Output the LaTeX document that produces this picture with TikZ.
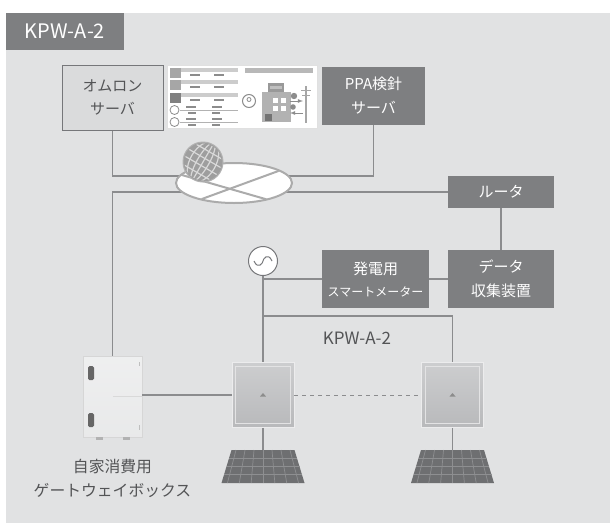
\documentclass[tikz,border=0pt]{standalone}
\usepackage{fontspec}
\setmainfont{Noto Sans CJK JP}
\usetikzlibrary{shapes.geometric}

\definecolor{bgc}{HTML}{E1E2E3}
\definecolor{boxdark}{HTML}{7E7F81}
\definecolor{boxlight}{HTML}{DADBDC}
\definecolor{boxedge}{HTML}{76777A}
\definecolor{wirec}{HTML}{8B8C8E}
\definecolor{txtdark}{HTML}{535456}
\definecolor{panelc}{HTML}{6E6F71}
\definecolor{panelgrid}{HTML}{8E8F91}
\definecolor{invc}{HTML}{C0C1C3}

\tikzset{
  wire/.style={draw=wirec, line width=1.1pt},
  darkbox/.style={rectangle, fill=boxdark, text=white, inner sep=0pt, align=center,
    font=\fontsize{15}{24}\selectfont},
  lightbox/.style={rectangle, fill=boxlight, draw=boxedge, line width=1pt, text=txtdark,
    inner sep=0pt, align=center, font=\fontsize{15}{23}\selectfont},
  invbox/.style={rectangle, top color=white!20!invc, bottom color=black!4!invc,
    draw=white!70!invc, line width=0.8pt, inner sep=0pt,
    minimum width=62pt, minimum height=65pt},
  gwbox/.style={rectangle, top color=white!45!bgc, bottom color=white!25!bgc,
    draw=black!16, line width=0.6pt, inner sep=0pt,
    minimum width=59pt, minimum height=81pt},
  hub/.style={ellipse, draw=black!33, fill=white, line width=2pt, minimum width=116pt,
    minimum height=40pt, inner sep=0pt},
  caption/.style={text=txtdark, align=center, inner sep=0pt},
  pics/solarpanel/.style={code={
    \fill[panelc] (-31.5,0) -- (31.5,0) -- (41.5,33) -- (-41.5,33) -- cycle;
    \foreach \r in {1,2,3} {
      \draw[panelgrid, line width=0.7pt] (-31.5-10*\r/4,33*\r/4) -- (31.5+10*\r/4,33*\r/4);
    }
    \foreach \c in {-3,...,3} {
      \draw[panelgrid, line width=0.7pt] (\c*9,0) -- (\c*11.86,33);
    }
  }},
}

\begin{document}
\begin{tikzpicture}[x=1pt, y=-1pt]
\useasboundingbox (0,0) rectangle (610,525);
\fill[bgc] (6,13) rectangle (610,523);

% title tab
\node[darkbox, minimum width=118pt, minimum height=37pt,
      font=\fontsize{20}{24}\selectfont] (tab) at (65,31.5) {KPW-A-2};

% servers
\node[lightbox, minimum width=101pt, minimum height=65pt] (omron) at (112.5,97.5) {オムロン\\サーバ};
\node[darkbox, minimum width=103pt, minimum height=58pt] (ppa) at (373.5,96) {PPA検針\\サーバ};

% dashboard screenshot between the servers
\begin{scope}
  \fill[white] (167,65) rectangle (317,128);
  \draw[black!12, line width=0.5pt] (167,65) rectangle (317,128);
  \foreach \y/\c in {68/black!35, 80/black!35, 93/black!50} {
    \fill[\c] (170,\y) rectangle (181,\y+10);
    \fill[black!20] (181,\y) rectangle (238,\y+3.5);
    \fill[black!45] (190,\y+6) rectangle (200,\y+7.5);
    \fill[black!45] (214,\y+6) rectangle (224,\y+7.5);
  }
  \foreach \y in {110,122} {
    \draw[black!45, line width=0.8pt] (174.5,\y) circle (4.5);
    \fill[black!45] (186,\y-4) rectangle (196,\y-2.5);
    \fill[black!45] (212,\y-4) rectangle (222,\y-2.5);
    \draw[black!30, line width=0.6pt] (180,\y) -- (238,\y);
    \fill[black!45] (188,\y+2) rectangle (196,\y+3.5);
    \fill[black!45] (212,\y+2) rectangle (220,\y+3.5);
  }
  \fill[black!28] (245,68) rectangle (313,73);
  % building
  \fill[black!30] (262,92) rectangle (291,122);
  \fill[black!40] (268,83) rectangle (284,92);
  \fill[black!25] (270,86) rectangle (282,89);
  \foreach \wx in {273,281} \foreach \wy in {98,106}
    \fill[white] (\wx,\wy) rectangle (\wx+5,\wy+5);
  \fill[black!55] (265,114) rectangle (272,121);
  % location pin
  \draw[black!45, fill=white, line width=1pt] (249,101) circle (6.5);
  \draw[black!45, line width=0.8pt] (249,99.5) circle (2);
  % pole and meters
  \draw[black!35, line width=1.4pt] (306,86) -- (306,123);
  \draw[black!35, line width=1pt] (301,90) -- (311,90) (302,95) -- (310,95);
  \fill[black!45] (294,96) circle (3.2);
  \fill[black!45] (293,107) circle (2.8);
  \draw[black!45, line width=0.8pt, -latex] (290,101) -- (303,101);
  \draw[black!45, line width=0.8pt, -latex] (303,113) -- (290,113);
\end{scope}

% router, meter, data logger
\node[darkbox, minimum width=106pt, minimum height=32pt] (router) at (501,192) {ルータ};
\node[darkbox, minimum width=107pt, minimum height=58pt] (meter) at (375.5,279)
  {発電用\\[-2pt]{\fontsize{12}{14}\selectfont スマートメーター}};
\node[darkbox, minimum width=106pt, minimum height=58pt] (data) at (501,279) {データ\\収集装置};

% AC symbol
\node[circle, draw=boxedge, fill=white, line width=1pt, minimum size=29pt, inner sep=0pt] (ac) at (263,261) {};
\draw[boxedge, line width=1pt] ([xshift=-9pt]ac.center)
  .. controls ([xshift=-5pt, yshift=-9pt]ac.center) and ([yshift=-2pt]ac.center) .. (ac.center)
  .. controls ([yshift=2pt]ac.center) and ([xshift=5pt, yshift=9pt]ac.center) .. ([xshift=9pt]ac.center);

% gateway box and inverters
\node[gwbox] (gw) at (112.5,396.5) {};
\node[invbox] (inv1) at (263,395) {};
\node[invbox] (inv2) at (452.5,395) {};

% network hub (named here, drawn over its wires below)
\coordinate (cloud) at (234,183);
\coordinate (hubtop) at (234,176);

% panels and frame corner
\coordinate (p1top) at (263,450);
\coordinate (p2top) at (452.5,450);
\coordinate (kpwcorner) at (452.5,316);

% connectors
\draw[wire] (omron.south) |- (hubtop);
\draw[wire] (ppa.south) |- (hubtop);
\draw[wire] (gw.north) |- (router.west);
\draw[wire] (router.south) -- (data.north);
\draw[wire] (meter.east) -- (data.west);
\draw[wire] (meter.west) -- (ac.south |- meter.west);
\draw[wire] (ac.south) -- (inv1.north);
\draw[wire] (ac.south |- kpwcorner) -- (kpwcorner) -- (inv2.north);
\draw[wire] (inv1.west) -- (inv1.west -| gw.east);
\draw[wire, draw=black!15, line width=0.6pt] (gw.center) -- (gw.east);
\draw[wire, dashed, dash pattern=on 4pt off 4pt, line width=0.8pt] (inv1.east) -- (inv2.west);
\draw[wire] (inv1.south) -- (p1top);
\draw[wire] (inv2.south) -- (p2top);

% hub
\node[hub] (hubshape) at (cloud) {};
\begin{scope}
  \clip (234,183) ellipse [x radius=57, y radius=19];
  \draw[black!33, line width=2pt] (303,162) -- (180,207);
  \draw[black!33, line width=2pt] (168,171) -- (300,209);
\end{scope}

% globe
\begin{scope}
  \fill[black!38] (203,162) circle (20);
  \clip (203,162) circle (18.5);
  \begin{scope}[shift={(203,162)}, rotate=-30]
    \foreach \rx in {6,13} \draw[white!85!black, line width=1.2pt] (0,0) ellipse [x radius=\rx, y radius=22];
    \draw[white!85!black, line width=1.2pt] (0,-22) -- (0,22);
    \foreach \yy in {-12,-4,4,12} \draw[white!85!black, line width=1.2pt] (-22,\yy) -- (22,\yy);
  \end{scope}
\end{scope}
\draw[black!30, line width=1pt] (203,162) circle (20);

% gateway details
\foreach \hy in {366,413}
  \fill[black!60, rounded corners=1.5pt] (88,\hy) rectangle (94,\hy+14);
\fill[black!30] (96,437) rectangle (103,440);
\fill[black!30] (123,437) rectangle (130,440);
\draw[black!25, line width=0.5pt] (139,362) -- (139,366) (139,425) -- (139,430);

% inverter details
\foreach \n in {inv1,inv2} {
  \draw[white!55!invc, line width=1pt] ([xshift=4pt,yshift=-4pt]\n.north west) rectangle ([xshift=-4pt,yshift=4pt]\n.south east);
  \fill[black!45] ([xshift=-3pt,yshift=-1.5pt]\n.center) -- ([xshift=3pt,yshift=-1.5pt]\n.center) -- ([yshift=2pt]\n.center) -- cycle;
}

% solar panels
\pic at (p1top) {solarpanel};
\pic at (p2top) {solarpanel};

% labels
\node[caption, font=\fontsize{17}{20}\selectfont] (kpwlabel) at (357,338) {KPW-A-2};
\node[caption, font=\fontsize{15.8}{24}\selectfont] (gwlabel) at (112.5,478) {自家消費用\\ゲートウェイボックス};
\end{tikzpicture}
\end{document}
